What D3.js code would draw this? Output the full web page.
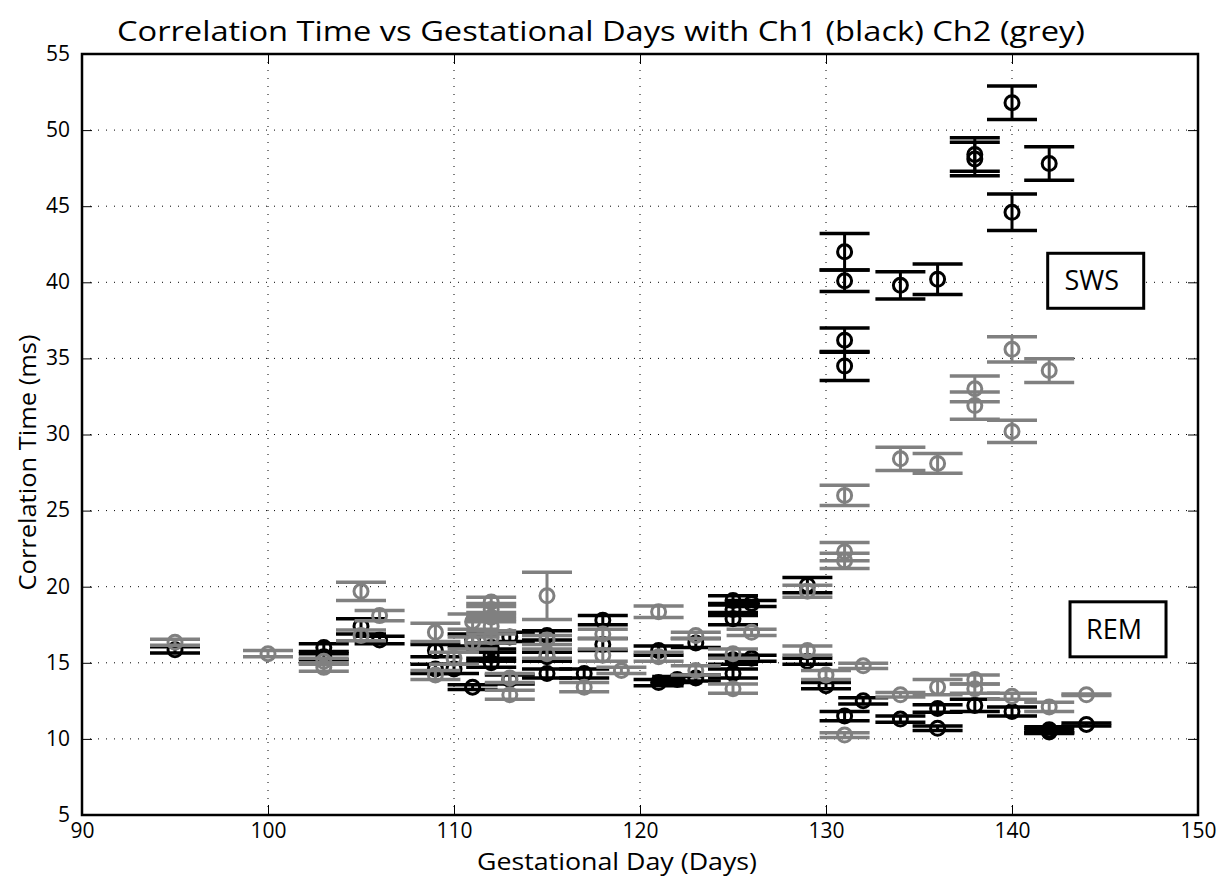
<!DOCTYPE html>
<html>
<head>
<meta charset="utf-8">
<script src="https://cdn.jsdelivr.net/npm/d3@7"></script>
<style>
  html, body { margin: 0; padding: 0; background: #fff; }
  svg { display: block; font-family: "Open Sans", "Noto Sans", sans-serif; }
</style>
</head>
<body>
<svg id="chart" width="1224" height="881"></svg>
<script>
// Correlation time (ms) per recording, with standard error.
// Channel 1 (black)
const ch1Day = [95, 103, 103, 105, 106, 109, 109, 110, 111, 111, 112, 112, 112, 113, 113,
  115, 115, 115, 117, 118, 118, 121, 121, 122, 123, 123, 125, 125, 125, 125, 125, 126, 126,
  129, 129, 130, 131, 131, 131, 131, 131, 132, 134, 134, 136, 136, 136, 138, 138, 138,
  140, 140, 140, 142, 142, 142, 142, 144];
const ch1Value = [15.85, 16.0, 15.4, 17.4, 16.5, 15.8, 14.6, 14.6, 16.5, 13.4, 15.0, 15.5, 16.0, 16.7, 13.9,
  16.8, 15.4, 14.3, 14.3, 17.8, 16.2, 15.8, 13.7, 13.9, 16.3, 14.0, 19.1, 18.5, 17.9, 15.2, 14.3, 18.9, 15.3,
  20.1, 15.1, 13.5, 42.0, 40.1, 36.2, 34.5, 11.5, 12.5, 39.8, 11.3, 40.2, 12.0, 10.7, 48.4, 48.1, 12.2,
  51.8, 44.6, 11.8, 47.8, 10.55, 10.45, 10.6, 10.95];
const ch1Err = [0.2, 0.25, 0.2, 0.5, 0.25, 0.4, 0.3, 0.3, 0.4, 0.15, 0.3, 0.4, 0.3, 0.3, 0.3,
  0.3, 0.3, 0.3, 0.3, 0.3, 0.4, 0.3, 0.2, 0.2, 0.3, 0.2, 0.3, 0.4, 0.4, 0.3, 0.3, 0.2, 0.2,
  0.5, 0.2, 0.2, 1.2, 0.7, 0.8, 0.95, 0.3, 0.2, 0.9, 0.2, 1.0, 0.25, 0.15, 1.1, 1.1, 0.4,
  1.1, 1.2, 0.3, 1.1, 0.15, 0.1, 0.2, 0.1];

// Channel 2 (grey)
const ch2Day = [95, 100, 103, 103, 105, 105, 106, 109, 109, 110, 111, 111, 112, 112, 112, 112, 112,
  113, 113, 115, 115, 115, 117, 118, 118, 119, 121, 121, 123, 123, 125, 125, 126,
  129, 129, 130, 131, 131, 131, 131, 132, 134, 134, 136, 136, 138, 138, 138, 138,
  140, 140, 140, 142, 142, 144];
const ch2Value = [16.35, 15.6, 15.1, 14.7, 19.7, 16.8, 18.1, 17.0, 14.2, 15.3, 17.7, 16.3, 19.0, 18.5, 18.0, 17.4, 16.7,
  14.0, 12.9, 19.4, 16.5, 15.6, 13.4, 16.9, 15.5, 14.5, 18.35, 15.4, 16.8, 14.5, 15.6, 13.3, 17.0,
  19.7, 15.8, 14.2, 26.0, 22.3, 21.7, 10.25, 14.8, 28.4, 12.9, 28.1, 13.4, 33.0, 31.9, 13.9, 13.3,
  35.6, 30.2, 12.8, 34.2, 12.1, 12.9];
const ch2Err = [0.2, 0.2, 0.2, 0.25, 0.6, 0.35, 0.33, 0.6, 0.3, 0.4, 0.5, 0.4, 0.3, 0.4, 0.3, 0.5, 0.4,
  0.3, 0.3, 1.55, 0.3, 0.3, 0.3, 0.3, 0.4, 0.2, 0.38, 0.3, 0.2, 0.3, 0.3, 0.3, 0.2,
  0.4, 0.3, 0.3, 0.66, 0.6, 0.5, 0.15, 0.17, 0.77, 0.15, 0.65, 0.5, 0.85, 0.9, 0.3, 0.3,
  0.83, 0.73, 0.2, 0.78, 0.3, 0.05];

const xTicks = [90, 100, 110, 120, 130, 140, 150];
const yTicks = [5, 10, 15, 20, 25, 30, 35, 40, 45, 50, 55];

const titleText = "Correlation Time vs Gestational Days with Ch1 (black) Ch2 (grey)";
const xLabel = "Gestational Day (Days)";
const yLabel = "Correlation Time (ms)";
const sleepStates = [
  { text: "SWS", day: 144.5, value: 40.1 },
  { text: "REM", day: 145.7, value: 17.2 }
];

const series = [
  { color: "#000000", day: ch1Day, value: ch1Value, err: ch1Err },
  { color: "#808080", day: ch2Day, value: ch2Value, err: ch2Err }
];

// ---- layout ----
const plot = { left: 82, right: 1198, top: 54, bottom: 815 };
const svg = d3.select("#chart");

const x = d3.scaleLinear().domain([90, 150]).range([plot.left, plot.right]);
const y = d3.scaleLinear().domain([5, 55]).range([plot.bottom, plot.top]);

// dotted grid
const grid = svg.append("g").attr("class", "grid")
  .attr("stroke", "#000").attr("stroke-width", 1).attr("stroke-dasharray", "1,7");
grid.selectAll("line.gx").data(xTicks.slice(1, -1)).join("line")
  .attr("x1", d => x(d)).attr("x2", d => x(d))
  .attr("y1", plot.top).attr("y2", plot.bottom);
grid.selectAll("line.gy").data(yTicks.slice(1, -1)).join("line")
  .attr("x1", plot.left).attr("x2", plot.right)
  .attr("y1", d => y(d)).attr("y2", d => y(d));

// axes (ticks point inward, box on all sides)
const tickLen = 10;
const axisFont = 21;
const bottomAxis = svg.append("g").attr("transform", `translate(0,${plot.bottom})`)
  .call(d3.axisBottom(x).tickValues(xTicks).tickSizeInner(-tickLen).tickSizeOuter(0));
const leftAxis = svg.append("g").attr("transform", `translate(${plot.left},0)`)
  .call(d3.axisLeft(y).tickValues(yTicks).tickSizeInner(-tickLen).tickSizeOuter(0));
const topAxis = svg.append("g").attr("transform", `translate(0,${plot.top})`)
  .call(d3.axisTop(x).tickValues(xTicks).tickSizeInner(-tickLen).tickSizeOuter(0).tickFormat(""));
const rightAxis = svg.append("g").attr("transform", `translate(${plot.right},0)`)
  .call(d3.axisRight(y).tickValues(yTicks).tickSizeInner(-tickLen).tickSizeOuter(0).tickFormat(""));

[bottomAxis, leftAxis, topAxis, rightAxis].forEach(g => {
  g.select(".domain").remove();
  g.selectAll(".tick line").attr("stroke", "#000").attr("stroke-width", 1);
  g.selectAll("text").attr("font-size", axisFont).attr("fill", "#000")
    .attr("font-family", "'Open Sans', sans-serif");
});
bottomAxis.selectAll("text").attr("y", 8).attr("dy", "0.71em");
leftAxis.selectAll("text").attr("x", -12).attr("dy", "0.3em");

// plot frame
svg.append("rect")
  .attr("x", plot.left).attr("y", plot.top)
  .attr("width", plot.right - plot.left).attr("height", plot.bottom - plot.top)
  .attr("fill", "none").attr("stroke", "#000").attr("stroke-width", 2.5);

// error bars with circle markers
const capHalf = 25;
const marks = svg.append("g").attr("class", "marks").attr("fill", "none");

function drawSeries(s) {
  const g = marks.append("g").attr("stroke", s.color);
  const idx = d3.range(s.day.length);
  const pt = g.selectAll("g.pt").data(idx).join("g").attr("class", "pt");
  pt.append("line")
    .attr("x1", i => x(s.day[i])).attr("x2", i => x(s.day[i]))
    .attr("y1", i => y(s.value[i] - s.err[i])).attr("y2", i => y(s.value[i] + s.err[i]))
    .attr("stroke-width", 3);
  pt.append("line")
    .attr("x1", i => x(s.day[i]) - capHalf).attr("x2", i => x(s.day[i]) + capHalf)
    .attr("y1", i => y(s.value[i] + s.err[i])).attr("y2", i => y(s.value[i] + s.err[i]))
    .attr("stroke-width", 3.5);
  pt.append("line")
    .attr("x1", i => x(s.day[i]) - capHalf).attr("x2", i => x(s.day[i]) + capHalf)
    .attr("y1", i => y(s.value[i] - s.err[i])).attr("y2", i => y(s.value[i] - s.err[i]))
    .attr("stroke-width", 3.5);
  pt.append("circle")
    .attr("cx", i => x(s.day[i])).attr("cy", i => y(s.value[i]))
    .attr("r", 7).attr("stroke-width", 3);
}
series.forEach(drawSeries);

// sleep-state annotation boxes
const boxW = 96, boxH = 55;
const ann = svg.append("g").attr("class", "annotations");
sleepStates.forEach(a => {
  const cx = x(a.day), cy = y(a.value);
  ann.append("rect")
    .attr("x", cx - boxW / 2).attr("y", cy - boxH / 2)
    .attr("width", boxW).attr("height", boxH)
    .attr("fill", "#fff").attr("stroke", "#000").attr("stroke-width", 3);
  ann.append("text")
    .attr("x", cx - 4).attr("y", cy).attr("dy", "0.36em")
    .attr("text-anchor", "middle").attr("font-size", 27)
    .text(a.text);
});

// titles
svg.append("text")
  .attr("x", 601).attr("y", 41)
  .attr("text-anchor", "middle").attr("font-size", 28)
  .attr("textLength", 968).attr("lengthAdjust", "spacingAndGlyphs")
  .text(titleText);
svg.append("text")
  .attr("x", 617).attr("y", 870)
  .attr("text-anchor", "middle").attr("font-size", 23)
  .attr("textLength", 280).attr("lengthAdjust", "spacingAndGlyphs")
  .text(xLabel);
svg.append("text")
  .attr("transform", `translate(36,${(plot.top + plot.bottom) / 2 + 28}) rotate(-90)`)
  .attr("text-anchor", "middle").attr("font-size", 24)
  .attr("textLength", 256).attr("lengthAdjust", "spacingAndGlyphs")
  .text(yLabel);
</script>
</body>
</html>
